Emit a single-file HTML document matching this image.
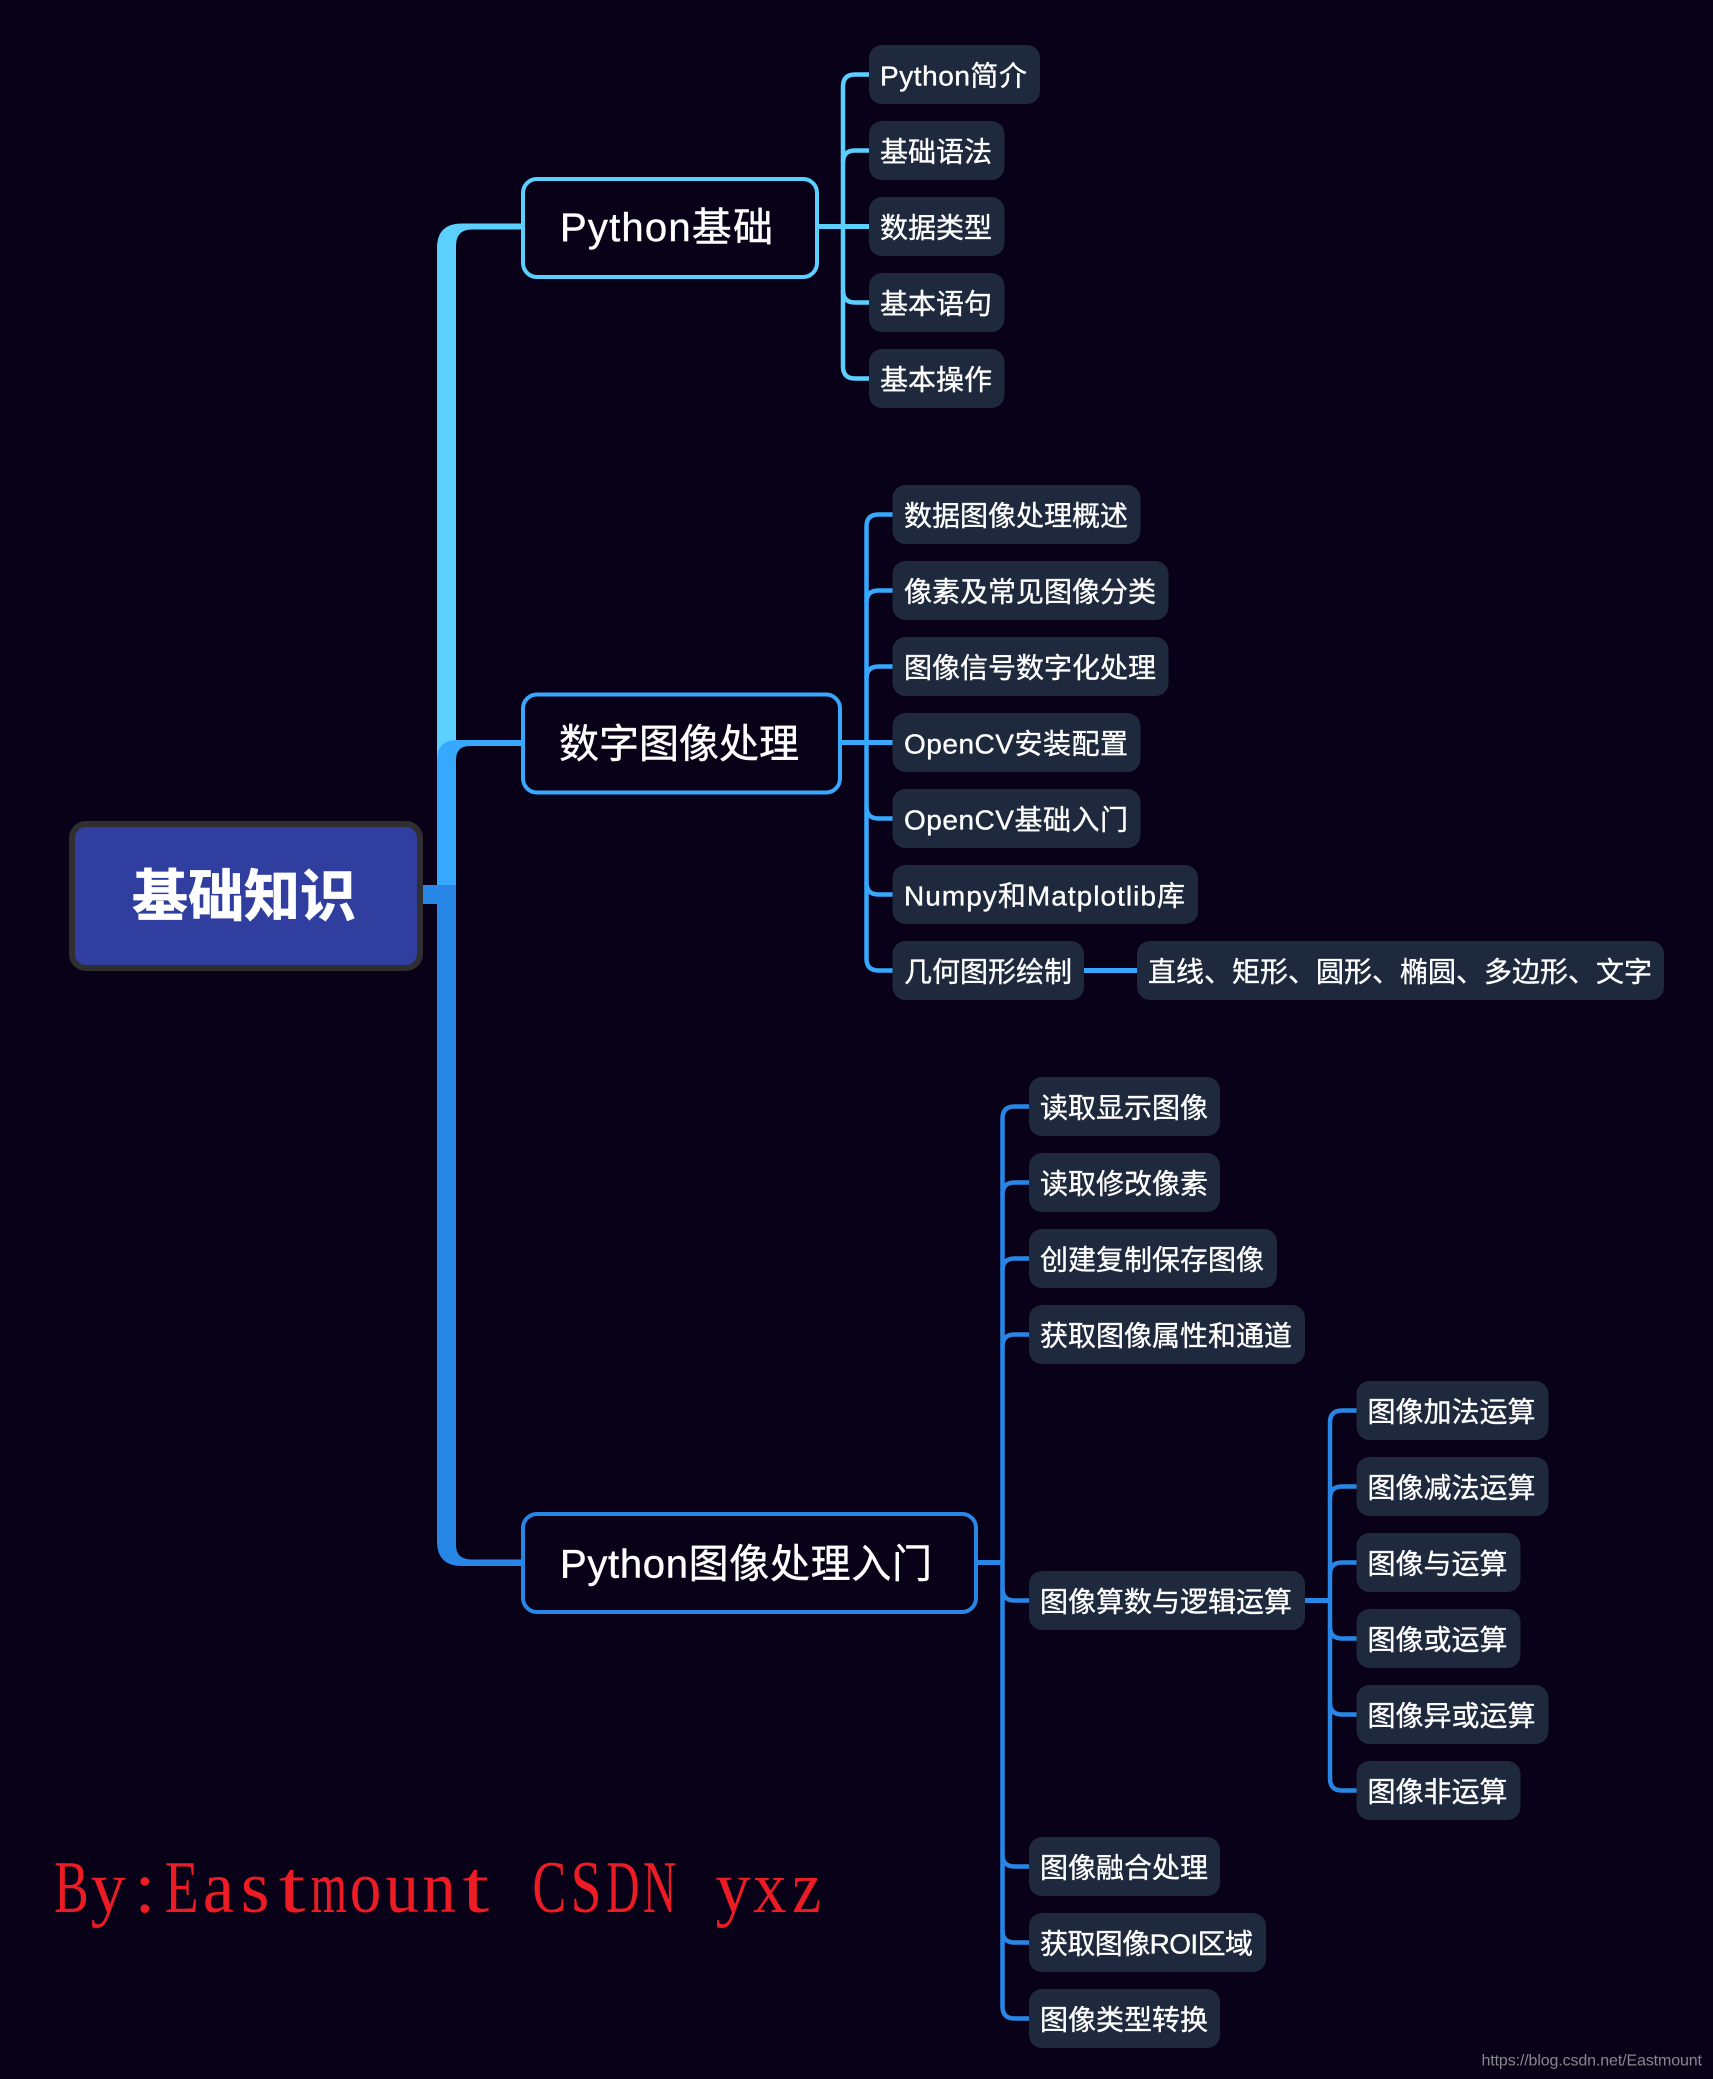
<!DOCTYPE html>
<html lang="zh">
<head>
<meta charset="utf-8">
<title>基础知识</title>
<style>
html,body{margin:0;padding:0;background:#090118;}
svg{display:block;}
text{font-family:"Liberation Sans","Noto Sans CJK SC",sans-serif;fill:#fff;}
.l{font-size:28px;stroke:#fff;stroke-width:.35px;transform:translate(-1px,1px);}
.b{font-size:40px;stroke:#fff;stroke-width:.4px;transform:translate(-1px,.5px);}
.n{fill:#1e293d;}
.c{fill:none;stroke-width:4.5;}
.w text{font-family:"Liberation Serif",serif;font-size:74px;fill:#ed1c24;text-anchor:middle;}
</style>
</head>
<body>
<svg xmlns="http://www.w3.org/2000/svg" width="1713" height="2079" viewBox="0 0 1713 2079">
<rect width="1713" height="2079" fill="#090118"/>

<!-- trunk -->
<path d="M521,223.5 H462 Q437,223.5 437,248 V760 H456 V246 Q456,229.5 472,229.5 H521 Z" fill="#5bd0ff"/>
<path d="M521,740 H457 Q437,740 437,760 V895 H456 V760 Q456,746 470,746 H521 Z" fill="#36a9ff"/>
<path d="M437,885 H456 V1545 Q456,1559.5 472,1559.5 H521 V1566 H462 Q437,1566 437,1541 Z" fill="#2887e6"/>
<rect x="423" y="885" width="33" height="19" fill="#2887e6"/>

<!-- root -->
<rect x="72" y="824" width="348" height="144" rx="14" fill="#303f9f" stroke="#2f2f2f" stroke-width="6"/>
<text x="244" y="916" text-anchor="middle" font-size="56" font-weight="700" stroke="#fff" stroke-width="0.8">基础知识</text>

<!-- section 1 -->
<g stroke="#5bd0ff">
<path class="c" d="M869,74.5 H855 Q843,74.5 843,86.5 V366.5 Q843,378.5 855,378.5 H869"/>
<path class="c" d="M843,162.5 Q843,150.5 855,150.5 H869"/>
<path class="c" d="M843,290.5 Q843,302.5 855,302.5 H869"/>
<path class="c" style="stroke-width:5" d="M819,226.5 H869"/>
</g>
<rect x="523" y="179" width="294" height="98" rx="14" fill="#090118" stroke="#5bd0ff" stroke-width="4"/>
<text class="b" x="561" y="240.5" textLength="213" lengthAdjust="spacing">Python基础</text>
<rect class="n" x="869" y="45" width="171" height="59" rx="13"/><text class="l" x="881" y="84.5" textLength="147" lengthAdjust="spacing">Python简介</text>
<rect class="n" x="869" y="121" width="135.5" height="59" rx="13"/><text class="l" x="881" y="160.5">基础语法</text>
<rect class="n" x="869" y="197" width="135.5" height="59" rx="13"/><text class="l" x="881" y="236.5">数据类型</text>
<rect class="n" x="869" y="273" width="135.5" height="59" rx="13"/><text class="l" x="881" y="312.5">基本语句</text>
<rect class="n" x="869" y="349" width="135.5" height="59" rx="13"/><text class="l" x="881" y="388.5">基本操作</text>

<!-- section 2 -->
<g stroke="#36a9ff">
<path class="c" d="M893,514.5 H878.5 Q866.5,514.5 866.5,526.5 V958.5 Q866.5,970.5 878.5,970.5 H893"/>
<path class="c" d="M866.5,602.5 Q866.5,590.5 878.5,590.5 H893"/>
<path class="c" d="M866.5,678.5 Q866.5,666.5 878.5,666.5 H893"/>
<path class="c" d="M866.5,806.5 Q866.5,818.5 878.5,818.5 H893"/>
<path class="c" d="M866.5,882.5 Q866.5,894.5 878.5,894.5 H893"/>
<path class="c" style="stroke-width:5" d="M842,742.5 H893"/>
<path class="c" style="stroke-width:5" d="M1084,970.5 H1137"/>
</g>
<rect x="523" y="694.5" width="317" height="98" rx="14" fill="#090118" stroke="#36a9ff" stroke-width="4"/>
<text class="b" x="560" y="757">数字图像处理</text>
<rect class="n" x="892.5" y="485" width="248" height="59" rx="13"/><text class="l" x="905" y="524.5">数据图像处理概述</text>
<rect class="n" x="892.5" y="561" width="276" height="59" rx="13"/><text class="l" x="905" y="600.5">像素及常见图像分类</text>
<rect class="n" x="892.5" y="637" width="276" height="59" rx="13"/><text class="l" x="905" y="676.5">图像信号数字化处理</text>
<rect class="n" x="892.5" y="713" width="248" height="59" rx="13"/><text class="l" x="905" y="752.5" textLength="224" lengthAdjust="spacing">OpenCV安装配置</text>
<rect class="n" x="892.5" y="789" width="248" height="59" rx="13"/><text class="l" x="905" y="828.5" textLength="224" lengthAdjust="spacing">OpenCV基础入门</text>
<rect class="n" x="892.5" y="865" width="305.5" height="59" rx="13"/><text class="l" x="905" y="904.5" textLength="281" lengthAdjust="spacing">Numpy和Matplotlib库</text>
<rect class="n" x="892.5" y="941" width="191.5" height="59" rx="13"/><text class="l" x="905" y="980.5">几何图形绘制</text>
<rect class="n" x="1137" y="941" width="527" height="59" rx="13"/><text class="l" x="1149" y="980.5">直线、矩形、圆形、椭圆、多边形、文字</text>

<!-- section 3 -->
<g stroke="#2887e6">
<path class="c" d="M1029,1106.5 H1014.5 Q1002.5,1106.5 1002.5,1118.5 V2006.5 Q1002.5,2018.5 1014.5,2018.5 H1029"/>
<path class="c" d="M1002.5,1194.5 Q1002.5,1182.5 1014.5,1182.5 H1029"/>
<path class="c" d="M1002.5,1270.5 Q1002.5,1258.5 1014.5,1258.5 H1029"/>
<path class="c" d="M1002.5,1346.5 Q1002.5,1334.5 1014.5,1334.5 H1029"/>
<path class="c" d="M1002.5,1588.5 Q1002.5,1600.5 1014.5,1600.5 H1029"/>
<path class="c" d="M1002.5,1854.5 Q1002.5,1866.5 1014.5,1866.5 H1029"/>
<path class="c" d="M1002.5,1930.5 Q1002.5,1942.5 1014.5,1942.5 H1029"/>
<path class="c" style="stroke-width:5" d="M976,1562.5 H1003"/>
<path class="c" d="M1356.5,1410.5 H1342 Q1330,1410.5 1330,1422.5 V1778.5 Q1330,1790.5 1342,1790.5 H1356.5"/>
<path class="c" d="M1330,1498.5 Q1330,1486.5 1342,1486.5 H1356.5"/>
<path class="c" d="M1330,1574.5 Q1330,1562.5 1342,1562.5 H1356.5"/>
<path class="c" d="M1330,1626.5 Q1330,1638.5 1342,1638.5 H1356.5"/>
<path class="c" d="M1330,1702.5 Q1330,1714.5 1342,1714.5 H1356.5"/>
<path class="c" style="stroke-width:5" d="M1304,1600.5 H1331"/>
</g>
<rect x="523" y="1514" width="453" height="98" rx="14" fill="#090118" stroke="#2887e6" stroke-width="4"/>
<text class="b" x="561" y="1577" textLength="372" lengthAdjust="spacing">Python图像处理入门</text>
<rect class="n" x="1029" y="1077" width="191" height="59" rx="13"/><text class="l" x="1041" y="1116.5">读取显示图像</text>
<rect class="n" x="1029" y="1153" width="191" height="59" rx="13"/><text class="l" x="1041" y="1192.5">读取修改像素</text>
<rect class="n" x="1029" y="1229" width="248" height="59" rx="13"/><text class="l" x="1041" y="1268.5">创建复制保存图像</text>
<rect class="n" x="1029" y="1305" width="276" height="59" rx="13"/><text class="l" x="1041" y="1344.5">获取图像属性和通道</text>
<rect class="n" x="1029" y="1571" width="276" height="59" rx="13"/><text class="l" x="1041" y="1610.5">图像算数与逻辑运算</text>
<rect class="n" x="1029" y="1837" width="191" height="59" rx="13"/><text class="l" x="1041" y="1876.5">图像融合处理</text>
<rect class="n" x="1029" y="1913" width="237" height="59" rx="13"/><text class="l" x="1041" y="1952.5" textLength="213" lengthAdjust="spacing">获取图像ROI区域</text>
<rect class="n" x="1029" y="1989" width="191" height="59" rx="13"/><text class="l" x="1041" y="2028.5">图像类型转换</text>

<!-- section 4 -->
<rect class="n" x="1356.5" y="1381" width="192" height="59" rx="13"/><text class="l" x="1368.5" y="1420.5">图像加法运算</text>
<rect class="n" x="1356.5" y="1457" width="192" height="59" rx="13"/><text class="l" x="1368.5" y="1496.5">图像减法运算</text>
<rect class="n" x="1356.5" y="1533" width="164" height="59" rx="13"/><text class="l" x="1368.5" y="1572.5">图像与运算</text>
<rect class="n" x="1356.5" y="1609" width="164" height="59" rx="13"/><text class="l" x="1368.5" y="1648.5">图像或运算</text>
<rect class="n" x="1356.5" y="1685" width="192" height="59" rx="13"/><text class="l" x="1368.5" y="1724.5">图像异或运算</text>
<rect class="n" x="1356.5" y="1761" width="164" height="59" rx="13"/><text class="l" x="1368.5" y="1800.5">图像非运算</text>

<!-- watermark -->
<g class="w">
<text transform="translate(71.4,1912) scale(.7,1)">B</text>
<text transform="translate(108.2,1912) scale(.95,1)">y</text>
<text transform="translate(144.9,1912) scale(1,1)">:</text>
<text transform="translate(181.7,1912) scale(.75,1)">E</text>
<text transform="translate(218.4,1912) scale(.95,1)">a</text>
<text transform="translate(255.2,1912) scale(1,1)">s</text>
<text transform="translate(292,1912) scale(1.3,1)">t</text>
<text transform="translate(328.7,1912) scale(.63,1)">m</text>
<text transform="translate(365.5,1912) scale(.85,1)">o</text>
<text transform="translate(402.2,1912) scale(.9,1)">u</text>
<text transform="translate(439,1912) scale(.9,1)">n</text>
<text transform="translate(475.8,1912) scale(1.3,1)">t</text>
<text transform="translate(549.3,1912) scale(.68,1)">C</text>
<text transform="translate(586,1912) scale(.75,1)">S</text>
<text transform="translate(622.8,1912) scale(.62,1)">D</text>
<text transform="translate(659.6,1912) scale(.62,1)">N</text>
<text transform="translate(733.1,1912) scale(.95,1)">y</text>
<text transform="translate(769.8,1912) scale(.9,1)">x</text>
<text transform="translate(806.6,1912) scale(.88,1)">z</text>
</g>
<text x="1481.5" y="2065.5" font-size="16" textLength="220.5" lengthAdjust="spacing" style="fill:#87878d">https://blog.csdn.net/Eastmount</text>
</svg>
</body>
</html>
